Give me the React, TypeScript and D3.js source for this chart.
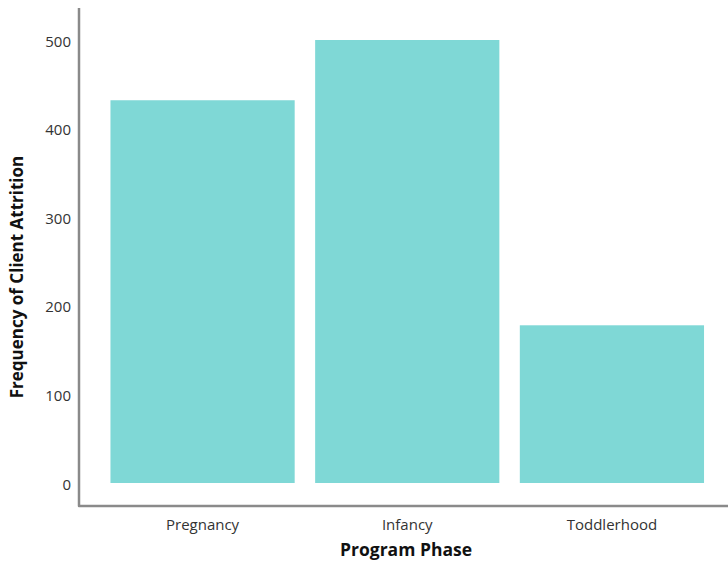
import React from "react";
import * as d3 from "d3";

// Client attrition counts by program phase
const phases: string[] = ["Pregnancy", "Infancy", "Toddlerhood"];
const attrition: number[] = [432, 500, 178];
const yTicks: number[] = [0, 100, 200, 300, 400, 500];

const W = 728;
const H = 567;
const axisX = 79;
const axisY = 506;
const FONT = "'Open Sans', 'Noto Sans', sans-serif";

export default function App() {
  const x = d3
    .scaleBand<string>()
    .domain(phases)
    .range([90, 724.5])
    .paddingInner(0.1)
    .paddingOuter(0.1);

  const y = d3.scaleLinear().domain([0, 500]).range([483, 40]);

  return (
    <svg
      width={W}
      height={H}
      style={{ position: "absolute", left: 0, top: 0, background: "#fff" }}
    >
      {/* bars */}
      {phases.map((p, i) => (
        <rect
          key={p}
          x={x(p)}
          y={y(attrition[i])}
          width={x.bandwidth()}
          height={y(0) - y(attrition[i])}
          fill="#7fd8d6"
        />
      ))}

      {/* axes */}
      <path
        d={`M${axisX},8 L${axisX},${axisY} L${W},${axisY}`}
        fill="none"
        stroke="#8a8a8a"
        strokeWidth={2.5}
        strokeLinejoin="round"
      />

      {/* y tick labels */}
      {yTicks.map((t) => (
        <text
          key={t}
          x={71}
          y={y(t) + 2.5}
          textAnchor="end"
          dominantBaseline="middle"
          fontFamily={FONT}
          fontSize={15}
          fill="#333"
        >
          {d3.format("d")(t)}
        </text>
      ))}

      {/* x category labels */}
      {phases.map((p) => (
        <text
          key={p}
          x={(x(p) ?? 0) + x.bandwidth() / 2}
          y={526}
          textAnchor="middle"
          dominantBaseline="middle"
          fontFamily={FONT}
          fontSize={15}
          fill="#333"
        >
          {p}
        </text>
      ))}

      {/* axis titles */}
      <text
        x={406}
        y={551}
        textAnchor="middle"
        dominantBaseline="middle"
        fontFamily={FONT}
        fontSize={17.5}
        fontWeight="bold"
        fill="#111"
      >
        Program Phase
      </text>
      <text
        transform={`translate(18,277) rotate(-90)`}
        textAnchor="middle"
        dominantBaseline="middle"
        fontFamily={FONT}
        fontSize={17}
        fontWeight="bold"
        fill="#111"
      >
        Frequency of Client Attrition
      </text>
    </svg>
  );
}
